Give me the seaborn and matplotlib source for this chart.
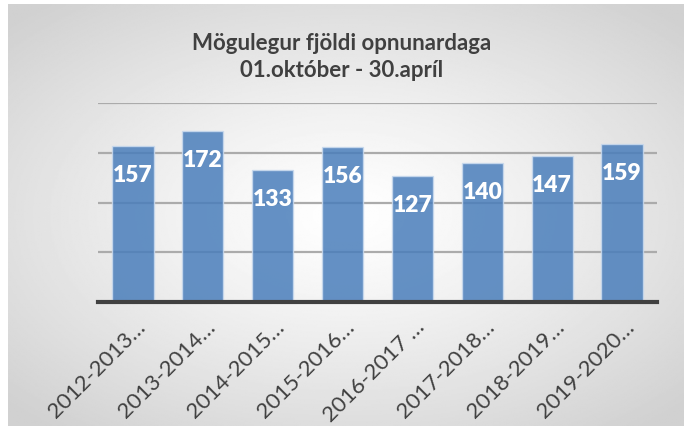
import numpy as np
import pandas as pd
import seaborn as sns
import matplotlib.pyplot as plt
from matplotlib.transforms import ScaledTranslation

# chart data
seasons = ["2012-2013…", "2013-2014…", "2014-2015…", "2015-2016…",
           "2016-2017 …", "2017-2018…", "2018-2019…", "2019-2020…"]
days_open = [157, 172, 133, 156, 127, 140, 147, 159]
grid_ticks = [0, 50, 100, 150, 200]

df = pd.DataFrame({"season": seasons, "days": days_open})

sns.set_theme(style="white")
plt.rcParams["font.family"] = ["Lato", "DejaVu Sans"]

fig = plt.figure(figsize=(6.84, 4.26), dpi=100)
fig.patch.set_facecolor("white")

# radial grey gradient behind the chart
bg = fig.add_axes([8 / 684, 0, 1 - 8 / 684, 1 - 4 / 426], zorder=-5)
yy, xx = np.mgrid[-1:1:300j, -1:1:480j]
r = np.sqrt((xx * 0.95) ** 2 + (yy * 1.0) ** 2)
shade = 1 - 0.18 * np.clip(r / 1.3, 0, 1) ** 1.2
bg.imshow(shade, cmap="gray", vmin=0, vmax=1, aspect="auto", extent=[0, 1, 0, 1])
bg.set_axis_off()

ax = fig.add_axes([98 / 684, 1 - 302 / 426, 559 / 684, 199 / 426])
ax.patch.set_alpha(0)

sns.barplot(data=df, x="season", y="days", color="#4a7ebb", saturation=1,
            width=0.59, alpha=0.85, edgecolor="#c9daee", linewidth=1.0,
            ax=ax, zorder=3)

ax.set_ylim(0, 200)
ax.set_yticks(grid_ticks)
ax.yaxis.grid(True, color="#ababab", linewidth=1.6, zorder=0)
ax.set_axisbelow(True)
ax.tick_params(axis="y", left=False, labelleft=False)
ax.tick_params(axis="x", bottom=False, pad=0)
for s in ["top", "right", "left"]:
    ax.spines[s].set_visible(False)
ax.spines["bottom"].set_color("#404040")
ax.spines["bottom"].set_linewidth(3)
ax.spines["bottom"].set_zorder(5)
ax.set_xlabel("")
ax.set_ylabel("")

for lbl in ax.get_xticklabels():
    lbl.set_rotation(45)
    lbl.set_ha("right")
    lbl.set_rotation_mode("anchor")
    lbl.set_fontsize(16)
    lbl.set_color("#404040")
    lbl.set_transform(lbl.get_transform() + ScaledTranslation(0.02, -0.07, fig.dpi_scale_trans))

for container in ax.containers:
    ax.bar_label(container, labels=[str(v) for v in days_open], padding=-29,
                 color="white", fontsize=16.5, fontweight="heavy")

fig.text(0.5, 0.866, "Mögulegur fjöldi opnunardaga\n01.október - 30.apríl",
         ha="center", va="center", fontsize=16, fontweight="bold",
         color="#404040", linespacing=1.35)

fig.savefig("out.png", dpi=100)
